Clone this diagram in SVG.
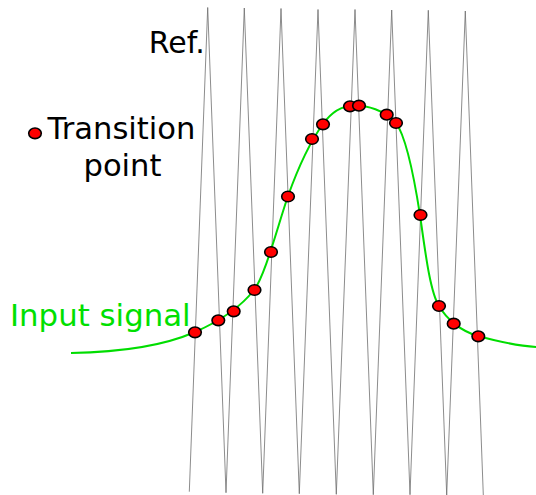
<svg xmlns="http://www.w3.org/2000/svg" width="536" height="495" viewBox="0 0 536 495">
<style>
text{font-family:"DejaVu Sans",sans-serif;font-size:30px}
.dot{fill:#ff0000;stroke:#000;stroke-width:1.6}
.ref{fill:none;stroke:#6e6e6e;stroke-width:0.8}
.sig{fill:none;stroke:#00dd00;stroke-width:2}
</style>
<rect width="536" height="495" fill="#fff"/>
<g id="connectors">
<polyline id="ref-wave" class="ref" points="189.3,491.7 207.7,7.5 226,492.7 244.3,8 262.7,493.3 281,8.5 299.3,493.7 318,9.5 336.3,494.3 355,9.5 373.3,494.7 391.7,10 410,494.7 428.3,10.3 446.7,495 465.3,11 483.3,495"/>
<path id="input-signal" class="sig" d="M71,353 C130,352 170,343 195,332 C220,321 240,308 254,290 C265,276 278,225 288,196 C298,168 310,142 323,124 C330,114 340,106 354,105.5 C366,105 385,110 396,123 C405,135 413,170 420,215 C425,250 430,292 439,306 C446,318 460,331 478,336 C500,342 520,346 536,347"/>
</g>
<g id="points">
<ellipse class="dot" cx="195" cy="332.3" rx="6.3" ry="5.3"/>
<ellipse class="dot" cx="218.3" cy="320.3" rx="6.3" ry="5.3"/>
<ellipse class="dot" cx="233.7" cy="311.3" rx="6.3" ry="5.3"/>
<ellipse class="dot" cx="254.5" cy="290" rx="6.3" ry="5.3"/>
<ellipse class="dot" cx="271" cy="252" rx="6.3" ry="5.3"/>
<ellipse class="dot" cx="288" cy="196.5" rx="6.3" ry="5.3"/>
<ellipse class="dot" cx="312" cy="139" rx="6.3" ry="5.3"/>
<ellipse class="dot" cx="323" cy="124.3" rx="6.3" ry="5.3"/>
<ellipse class="dot" cx="350" cy="106.3" rx="6.3" ry="5.3"/>
<ellipse class="dot" cx="359" cy="105.7" rx="6.3" ry="5.3"/>
<ellipse class="dot" cx="386.7" cy="114.7" rx="6.3" ry="5.3"/>
<ellipse class="dot" cx="396" cy="123" rx="6.3" ry="5.3"/>
<ellipse class="dot" cx="420.5" cy="215" rx="6.3" ry="5.3"/>
<ellipse class="dot" cx="439" cy="306" rx="6.3" ry="5.3"/>
<ellipse class="dot" cx="453.7" cy="323.7" rx="6.3" ry="5.3"/>
<ellipse class="dot" cx="478.3" cy="336.3" rx="6.3" ry="5.3"/>
</g>
<g id="label-ref"><text x="148.8" y="53">Ref.</text></g>
<g id="legend">
<ellipse class="dot" cx="35" cy="133.3" rx="6.3" ry="5.3"/>
<text x="121.5" y="139" text-anchor="middle" style="font-size:30.6px">Transition</text>
<text x="122.5" y="176" text-anchor="middle" style="font-size:30.6px">point</text>
</g>
<g id="label-input"><text x="10" y="326" fill="#00e000" style="font-size:30.8px">Input signal</text></g>
</svg>
